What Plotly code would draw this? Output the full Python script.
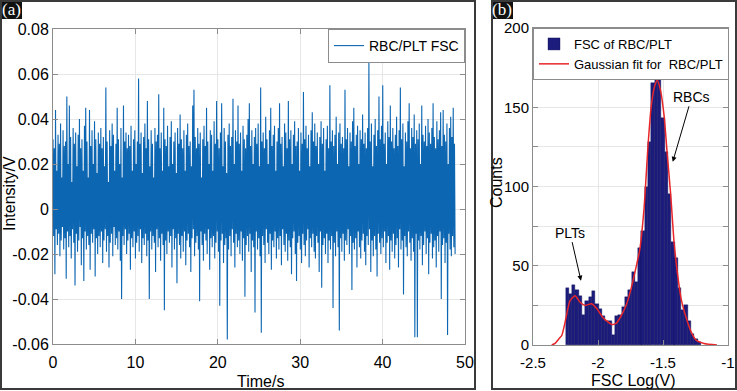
import numpy as np
import plotly.graph_objects as go

# ---------------- Panel (a): FSC time trace (peak values, mV) ----------------
fsc_pos_peaks_mV = [
    31, 27, 44, 17, 33, 29, 38, 14, 35, 28,
    30, 50, 20, 46, 32, 12, 36, 29, 34, 19,
    33, 40, 27, 31, 17, 37, 45, 30, 14, 44,
    28, 35, 20, 39, 31, 16, 34, 29, 36, 27,
    32, 19, 54, 30, 12, 35, 28, 38, 33, 17,
    29, 45, 31, 20, 36, 14, 46, 30, 34, 27,
    33, 28, 37, 17, 31, 35, 20, 30, 58, 29,
    34, 16, 32, 38, 27, 48, 31, 19, 35, 29,
    14, 36, 30, 33, 51, 27, 34, 17, 45, 31,
    28, 37, 19, 32, 39, 20, 30, 34, 16, 36,
    29, 42, 31, 27, 35, 17, 33, 38, 28, 30,
    19, 46, 53, 32, 27, 36, 29, 34, 14, 31,
    37, 28, 45, 30, 20, 35, 33, 17, 39, 29,
    48, 31, 27, 34, 47, 19, 36, 30, 16, 33,
    38, 28, 32, 49, 20, 35, 30, 46, 29, 34,
    17, 37, 31, 27, 33, 40, 47, 28, 35, 20,
    32, 36, 29, 38, 19, 54, 30, 34, 27, 41,
    31, 20, 35, 45, 28, 33, 37, 17, 30, 36,
    47, 29, 32, 19, 38, 34, 27, 48, 31, 35,
    20, 33, 39, 28, 30, 36, 17, 34, 29, 52,
    31, 37, 27, 33, 19, 35, 43, 30, 38, 28,
    34, 20, 32, 39, 29, 36, 17, 31, 37, 27,
    55, 30, 35, 28, 33, 41, 20, 34, 38, 29,
    32, 27, 53, 31, 36, 19, 34, 30, 39, 45,
    28, 33, 37, 20, 35, 31, 42, 29, 34, 27,
    36, 65, 30, 38, 19, 33, 40, 28, 35, 50,
    31, 37, 55, 29, 34, 20, 39, 32, 46, 30,
    36, 27, 33, 41, 28, 35, 54, 31, 38, 19,
    34, 30, 39, 47, 27, 36, 32, 42, 29, 35,
    31, 38, 20, 46, 33, 30, 37, 28, 40, 34,
    29, 36, 47, 32, 27, 39, 31, 35, 43, 28,
    44, 33, 30, 38, 20, 36, 41, 32, 45, 29,
]
fsc_neg_peaks_mV = [
    -12, -29, -9, -16, -11, -21, -14, -8, -18, -13,
    -31, -10, -17, -12, -22, -9, -15, -34, -11, -19,
    -14, -8, -25, -13, -32, -10, -18, -12, -16, -27,
    -11, -15, -9, -30, -13, -20, -12, -17, -10, -24,
    -14, -9, -19, -12, -26, -15, -11, -21, -8, -16,
    -13, -18, -10, -23, -40, -12, -16, -9, -20, -14,
    -11, -27, -13, -17, -10, -22, -15, -12, -19, -9,
    -24, -13, -16, -11, -21, -14, -40, -10, -18, -12,
    -15, -28, -9, -17, -13, -23, -11, -16, -45, -14,
    -20, -10, -15, -12, -26, -9, -18, -13, -33, -11,
    -16, -22, -12, -19, -10, -25, -14, -11, -17, -28,
    -13, -9, -21, -15, -12, -18, -41, -10, -16, -23,
    -11, -14, -20, -9, -27, -13, -17, -12, -22, -15,
    -10, -19, -43, -14, -11, -24, -16, -13, -58, -18,
    -12, -21, -9, -15, -26, -11, -17, -14, -20, -10,
    -23, -13, -39, -16, -12, -19, -11, -28, -14, -17,
    -46, -10, -18, -13, -21, -55, -12, -16, -24, -9,
    -15, -20, -11, -27, -14, -17, -10, -22, -13, -18,
    -12, -25, -9, -16, -19, -11, -23, -14, -17, -29,
    -13, -10, -20, -32, -15, -12, -18, -24, -11, -16,
    -21, -14, -9, -26, -13, -17, -11, -19, -22, -12,
    -15, -28, -10, -35, -16, -13, -20, -11, -24, -14,
    -18, -12, -44, -15, -21, -10, -17, -54, -13, -19,
    -11, -23, -14, -16, -9, -20, -12, -36, -15, -18,
    -13, -26, -10, -17, -22, -14, -11, -19, -25, -12,
    -16, -9, -28, -14, -21, -12, -18, -30, -11, -15,
    -20, -13, -17, -10, -24, -15, -12, -27, -14, -19,
    -11, -22, -16, -13, -26, -9, -18, -14, -38, -12,
    -17, -21, -10, -15, -23, -13, -19, -57, -11, -57,
    -14, -18, -12, -25, -16, -10, -20, -13, -29, -15,
    -11, -22, -17, -14, -26, -12, -19, -10, -40, -16,
    -13, -24, -15, -56, -11, -18, -21, -12, -17, -20,
]
record_duration_s = 48.8

time_ticks = [0, 10, 20, 30, 40, 50]
intensity_ticks = [-0.06, -0.04, -0.02, 0, 0.02, 0.04, 0.06, 0.08]
intensity_tick_labels = ["-0.06", "-0.04", "-0.02", "0", "0.02", "0.04", "0.06", "0.08"]

# ---------------- Panel (b): histogram + Gaussian fit ----------------
hist_bin_centers = [
    -2.237, -2.212, -2.186, -2.161, -2.135, -2.110, -2.085, -2.059, -2.034, -2.008,
    -1.983, -1.957, -1.932, -1.907, -1.881, -1.856, -1.830, -1.805, -1.780, -1.754,
    -1.729, -1.703, -1.678, -1.653, -1.627, -1.602, -1.576, -1.551, -1.526, -1.500,
    -1.475, -1.449, -1.424, -1.399, -1.373, -1.348, -1.322, -1.297, -1.272, -1.246,
    -1.221,
]
hist_counts = [
    36, 32, 38, 35, 31, 19, 28, 30, 34, 26,
    23, 18, 15, 15, 6, 18, 19, 24, 30, 35,
    46, 40, 61, 72, 100, 128, 165, 176, 174, 143,
    122, 95, 65, 55, 36, 22, 25, 15, 7, 4,
    2,
]
hist_bin_width = 0.0254

fit_x = [-2.356, -2.33, -2.30, -2.279, -2.254, -2.215, -2.177, -2.138, -2.10, -2.049,
         -2.01, -1.959, -1.895, -1.856, -1.818, -1.779, -1.741, -1.702, -1.679, -1.646,
         -1.615, -1.59, -1.565, -1.544, -1.52, -1.492, -1.467, -1.441, -1.415, -1.39,
         -1.36, -1.321, -1.282, -1.244, -1.185, -1.085]
fit_y = [0, 1, 4, 6, 14, 28, 31, 27, 25, 26,
         23, 17, 13, 14, 19, 26, 37, 51, 60, 86,
         126, 151, 163, 167, 161, 145, 120, 95, 65, 46,
         29, 17, 8, 3, 1, 0]

fsc_ticks = [-2.5, -2, -1.5, -1]
fsc_tick_labels = ["-2.5", "-2", "-1.5", "-1"]
count_ticks = [0, 25, 50, 75, 100, 125, 150, 175, 200]
count_tick_labels = ["0", "", "50", "", "100", "", "150", "", "200"]

# ---------------- build ----------------
W, H = 737, 391
signal = np.array([v for pair in zip(fsc_pos_peaks_mV, fsc_neg_peaks_mV) for v in pair]) / 1000.0
t = np.linspace(0, record_duration_s, len(signal))

FONT = "Arial, 'Liberation Sans', Helvetica, sans-serif"
SERIF = "'Liberation Serif', 'Times New Roman', serif"
AXC = "#8c8c8c"
GRID = "#e6e6e6"


def px(x):
    return x / W


def py(y):
    return 1 - y / H


fig = go.Figure()
fig.add_trace(go.Scatter(
    x=t, y=signal, mode="lines", name="RBC/PLT FSC",
    line=dict(color="#0c66b2", width=1.1), xaxis="x", yaxis="y", legend="legend",
))
fig.add_trace(go.Bar(
    x=hist_bin_centers, y=hist_counts, width=hist_bin_width, name="FSC of RBC/PLT",
    marker=dict(color="#1c1c7c", line=dict(color="#12125a", width=0.4)),
    xaxis="x2", yaxis="y2", legend="legend2",
))
fig.add_trace(go.Scatter(
    x=fit_x, y=fit_y, mode="lines", name="Gaussian fit for\u00a0 RBC/PLT",
    line=dict(color="#e8262a", width=1.5, shape="spline", smoothing=0.6),
    xaxis="x2", yaxis="y2", legend="legend2",
))


def axis_style(size, standoff=0):
    return dict(
        showline=True, linecolor=AXC, linewidth=1, mirror="allticks",
        ticks="inside", ticklen=5, tickcolor=AXC, tickwidth=1,
        showgrid=True, gridcolor=GRID, gridwidth=1, zeroline=False,
        automargin=False, ticklabelstandoff=standoff,
        tickfont=dict(family=FONT, size=size, color="#000"),
    )


fig.update_layout(
    width=W, height=H, autosize=False,
    margin=dict(l=0, r=0, t=0, b=0, autoexpand=False),
    paper_bgcolor="white", plot_bgcolor="white",
    bargap=0,
    xaxis=dict(domain=[px(53), px(465)], range=[0, 50], tickvals=time_ticks,
               anchor="y", **axis_style(16, 4)),
    yaxis=dict(domain=[py(344), py(29)], range=[-0.06, 0.08], tickvals=intensity_ticks,
               ticktext=intensity_tick_labels, anchor="x", **axis_style(16)),
    xaxis2=dict(domain=[px(533), px(728)], range=[-2.5, -1], tickvals=fsc_ticks,
                ticktext=fsc_tick_labels, anchor="y2", **axis_style(15, 4)),
    yaxis2=dict(domain=[py(345), py(28)], range=[0, 200], tickvals=count_ticks,
                ticktext=count_tick_labels, anchor="x2", **axis_style(15)),
    legend=dict(x=px(465), y=py(29), xanchor="right", yanchor="top",
                bgcolor="white", bordercolor="#8c8c8c", borderwidth=1,
                font=dict(family=FONT, size=14, color="#000"), itemwidth=30,
                tracegroupgap=0),
    legend2=dict(x=px(533), y=py(28), xanchor="left", yanchor="top",
                 bgcolor="white", bordercolor="#8c8c8c", borderwidth=1,
                 font=dict(family=FONT, size=13, color="#000"), itemwidth=30,
                 tracegroupgap=0),
    showlegend=True,
)

shapes = [
    dict(type="rect", xref="paper", yref="paper", x0=px(1), x1=px(475), y0=py(389), y1=py(1),
         line=dict(color="#3a3a3a", width=2), fillcolor="rgba(0,0,0,0)", layer="above"),
    dict(type="rect", xref="paper", yref="paper", x0=px(492), x1=px(736), y0=py(389), y1=py(1),
         line=dict(color="#3a3a3a", width=2), fillcolor="rgba(0,0,0,0)", layer="above"),
    dict(type="rect", xref="paper", yref="paper", x0=px(0), x1=px(22), y0=py(19), y1=py(0),
         line=dict(width=0), fillcolor="#111", layer="below"),
    dict(type="rect", xref="paper", yref="paper", x0=px(491), x1=px(513), y0=py(19), y1=py(0),
         line=dict(width=0), fillcolor="#111", layer="below"),
]
fig.update_layout(shapes=shapes)

ann_font = dict(family=FONT, size=16, color="#000")
C = dict(xref="paper", yref="paper", showarrow=False, xanchor="center", yanchor="middle")
annotations = [
    dict(text="(a)", x=px(11), y=py(10), font=dict(family=SERIF, size=17, color="white"), **C),
    dict(text="(b)", x=px(502), y=py(10), font=dict(family=SERIF, size=17, color="white"), **C),
    dict(text="Intensity/V", x=px(9), y=py(194), textangle=-90, font=ann_font, **C),
    dict(text="Time/s", x=px(260), y=py(381), font=ann_font, **C),
    dict(text="Counts", x=px(497), y=py(183), textangle=-90, font=ann_font, **C),
    dict(text="FSC Log(V)", x=px(633), y=py(380), font=ann_font, **C),
    dict(text="PLTs", x=-2.131, y=40.6, xref="x2", yref="y2", ax=-11, ay=-48,
         showarrow=True, arrowhead=2, arrowsize=1, arrowwidth=1, arrowcolor="#000",
         font=dict(family=FONT, size=14, color="#000")),
    dict(text="RBCs", x=-1.425, y=115.6, xref="x2", yref="y2", ax=19, ay=-65,
         showarrow=True, arrowhead=2, arrowsize=1, arrowwidth=1, arrowcolor="#000",
         font=dict(family=FONT, size=14, color="#000")),
]
fig.update_layout(annotations=annotations)

fig.write_html(
    "out.html",
    config={"displayModeBar": False},
    post_script="document.body.style.margin='0';document.body.style.padding='0';",
)
